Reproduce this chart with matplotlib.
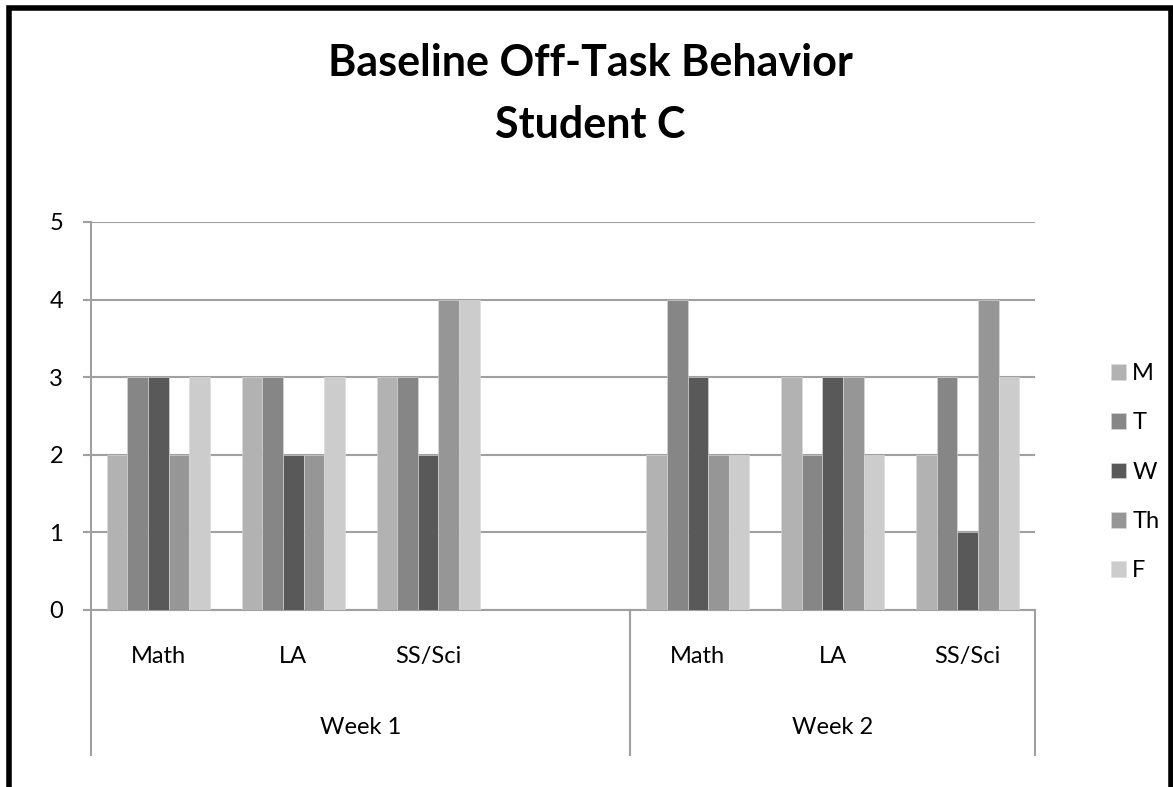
import matplotlib
matplotlib.use("Agg")
import matplotlib.pyplot as plt
import numpy as np
from matplotlib.patches import Rectangle

plt.rcParams['font.family'] = ['Lato', 'DejaVu Sans']

title = "Baseline Off-Task Behavior\nStudent C"
weeks = ["Week 1", "Week 2"]
subjects_w1 = ["Math", "LA", "SS/Sci", ""]
subjects_w2 = ["Math", "LA", "SS/Sci"]
days = ["M", "T", "W", "Th", "F"]
# values per slot (None = empty slot)
M  = [2, 3, 3, None, 2, 3, 2]
T  = [3, 3, 3, None, 4, 2, 3]
W  = [3, 2, 2, None, 3, 3, 1]
Th = [2, 2, 4, None, 2, 3, 4]
F  = [3, 3, 4, None, 2, 2, 3]
colors = ["#b2b2b2", "#868686", "#595959", "#969696", "#cccccc"]

series = [M, T, W, Th, F]
labels = subjects_w1 + subjects_w2
n = len(labels)

fig = plt.figure(figsize=(11.73, 7.87), dpi=100)
ax = fig.add_axes([91/1173, 1 - 610/787, (1035 - 91)/1173, (610 - 222)/787])

bw = 0.153
x = np.arange(n)
for i, (s, c, d) in enumerate(zip(series, colors, days)):
    xs = [xi for xi, v in zip(x, s) if v is not None]
    vs = [v for v in s if v is not None]
    ax.bar(np.array(xs) + (i - 2) * bw, vs, width=bw, color=c, label=d,
           edgecolor='#dcdcdc', linewidth=0.4, zorder=3)

fs = 17
ax.set_xlim(-0.5, n - 0.5)
ax.set_ylim(0, 5)
ax.set_yticks([0, 1, 2, 3, 4, 5])
ax.yaxis.grid(True, color='#a0a0a0', linewidth=1.5, zorder=0)
ax.set_axisbelow(True)
ax.set_xticks([])
for sp in ['top', 'right']:
    ax.spines[sp].set_visible(False)
for sp in ['left', 'bottom']:
    ax.spines[sp].set_color('#a0a0a0')
    ax.spines[sp].set_linewidth(1.5)
ax.tick_params(axis='y', length=6, width=1.5, color='#a0a0a0', labelsize=fs, pad=14)

# category axis
trans = ax.get_xaxis_transform()
for xb in [-0.5, 3.5, n - 0.5]:
    ax.plot([xb, xb], [0, -0.374], transform=trans, color='#a0a0a0', lw=1.5, clip_on=False)
for xi, lab in zip(x, labels):
    ax.text(xi, -0.121, lab, transform=trans, ha='center', va='center', fontsize=fs)
ax.text(1.5, -0.302, weeks[0], transform=trans, ha='center', va='center', fontsize=fs)
ax.text(5.0, -0.302, weeks[1], transform=trans, ha='center', va='center', fontsize=fs)

leg = ax.legend(loc='center left', bbox_to_anchor=(1.058, 0.355), frameon=False,
                fontsize=fs, handlelength=0.65, handleheight=0.65, handletextpad=0.25,
                labelspacing=1.2)

fig.text(0.503, 1 - 94/787, title, ha='center', va='center', fontsize=31,
         fontweight='bold', linespacing=1.65)

# chart frame
fig.patches.append(Rectangle((9/1173, -0.05), (1171 - 9)/1173, 1.05 - 8/787,
                             transform=fig.transFigure, fill=False,
                             edgecolor='black', linewidth=4, zorder=10))

fig.savefig("out.png", dpi=100)
